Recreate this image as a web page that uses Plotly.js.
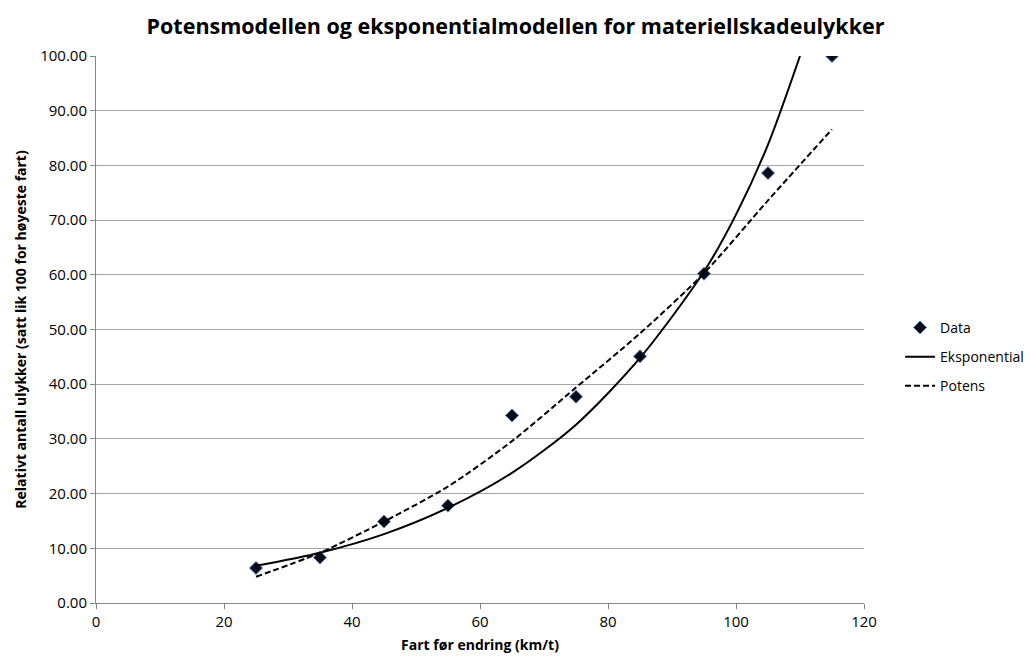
<!DOCTYPE html>
<html>
<head>
<meta charset="utf-8">
<script src="https://cdn.plot.ly/plotly-3.0.1.min.js"></script>
<style>html,body{margin:0;padding:0;background:#fff;}#chart{width:1031px;height:662px;}</style>
</head>
<body>
<div id="chart"></div>
<script>
// Observed data
const speed = [25, 35, 45, 55, 65, 75, 85, 95, 105, 115];
const relAccidents = [6.4, 8.3, 14.9, 17.8, 34.3, 37.7, 45.1, 60.2, 78.6, 100.0];

// Exponential trend line
const expX = [25, 35, 45, 55, 65, 75, 85, 95, 100, 105, 110];
const expY = [6.8, 9.2, 12.6, 17.4, 23.8, 32.6, 44.8, 60.6, 71.0, 83.8, 100.0];

// Power trend line
const potX = [25, 35, 45, 55, 65, 75, 85, 95, 105, 115];
const potY = [4.8, 9.2, 14.9, 21.3, 29.6, 39.4, 49.3, 60.3, 73.6, 86.6];

const xTicks = [0, 20, 40, 60, 80, 100, 120];
const yTicks = [0, 10, 20, 30, 40, 50, 60, 70, 80, 90, 100];

const FONT = '"Open Sans", "Noto Sans", sans-serif';

const traces = [
  {
    x: speed, y: relAccidents, name: 'Data', type: 'scatter', mode: 'markers',
    legendgroup: 'a',
    marker: {symbol: 'diamond', size: 10, color: '#0b0b1a', line: {color: '#4f81bd', width: 1}}
  },
  {
    x: expX, y: expY, name: 'Eksponential', type: 'scatter', mode: 'lines',
    legendgroup: 'b',
    line: {color: '#000000', width: 2, shape: 'spline', smoothing: 0.8}
  },
  {
    x: potX, y: potY, name: 'Potens', type: 'scatter', mode: 'lines',
    legendgroup: 'c',
    line: {color: '#000000', width: 2, dash: '6px,3px', shape: 'spline', smoothing: 0.8}
  }
];

const layout = {
  width: 1031, height: 662,
  margin: {l: 96, r: 167, t: 56, b: 59, autoexpand: false},
  paper_bgcolor: '#ffffff', plot_bgcolor: '#ffffff',
  font: {family: FONT, size: 14, color: '#262626'},
  title: {
    text: '<b>Potensmodellen og eksponentialmodellen for materiellskadeulykker</b>',
    font: {family: FONT, size: 21.5, color: '#000000'},
    x: 0.5, xanchor: 'center', y: 0.96, yanchor: 'middle', xref: 'container'
  },
  showlegend: true,
  legend: {
    xref: 'container', x: 0.873, xanchor: 'left', y: 0.45, yanchor: 'middle',
    traceorder: 'grouped', tracegroupgap: 8,
    font: {family: FONT, size: 14, color: '#000000'},
    bgcolor: 'rgba(0,0,0,0)', borderwidth: 0
  },
  xaxis: {
    range: [0, 120], tickvals: xTicks, ticktext: xTicks.map(String),
    showgrid: false, zeroline: false,
    showline: true, linecolor: '#868686', linewidth: 1,
    ticks: 'outside', ticklen: 5, tickcolor: '#868686',
    tickfont: {family: FONT, size: 15, color: '#000000'},
    title: {text: '<b>Fart før endring (km/t)</b>', font: {family: FONT, size: 14, color: '#000000'}, standoff: 10}
  },
  yaxis: {
    range: [0, 100], tickvals: yTicks, ticktext: yTicks.map(v => v.toFixed(2)),
    showgrid: true, gridcolor: '#a6a6a6', gridwidth: 1, zeroline: false,
    showline: true, linecolor: '#868686', linewidth: 1,
    ticks: 'outside', ticklen: 5, tickcolor: '#868686',
    tickfont: {family: FONT, size: 15, color: '#000000'},
    title: {text: '<b>Relativt antall ulykker (satt lik 100 for høyeste fart)</b>', font: {family: FONT, size: 14, color: '#000000'}, standoff: 10}
  }
};

Plotly.newPlot('chart', traces, layout, {displayModeBar: false, staticPlot: true});
</script>
</body>
</html>
